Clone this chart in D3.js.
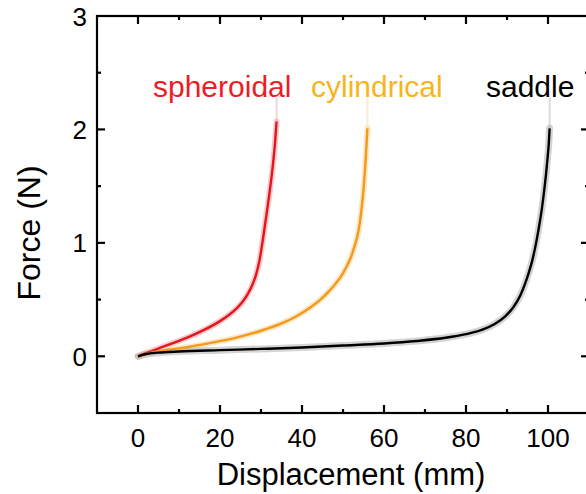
<!DOCTYPE html>
<html><head><meta charset="utf-8">
<script src="https://cdn.jsdelivr.net/npm/d3@7"></script>
<style>body{margin:0;background:#fff}svg{display:block}text{font-family:"Liberation Sans",Arial,sans-serif}</style>
</head><body><div id="chart"></div>
<script>
const xTicks = [0, 20, 40, 60, 80, 100];
const yTicks = [0, 1, 2, 3];
const seriesNames = ["spheroidal", "cylindrical", "saddle"];
const spheroidalX = [0, 4, 8, 12, 16, 20, 22, 24, 25.5, 26.8, 27.9, 28.8, 29.6, 30.3, 30.9, 31.5, 32, 32.5, 33, 33.4, 33.8];
const spheroidalY = [0, 0.055, 0.11, 0.165, 0.23, 0.31, 0.36, 0.42, 0.48, 0.55, 0.63, 0.72, 0.84, 0.99, 1.14, 1.29, 1.42, 1.56, 1.72, 1.87, 2.07];
const cylindricalX = [0, 3, 7, 12, 18, 24, 30, 35, 39, 42, 44.5, 46.5, 48.3, 49.8, 51, 52, 52.9, 53.7, 54.4, 55, 55.5, 55.96];
const cylindricalY = [0, 0.03, 0.055, 0.08, 0.12, 0.165, 0.225, 0.29, 0.36, 0.43, 0.50, 0.57, 0.645, 0.72, 0.80, 0.88, 0.98, 1.09, 1.26, 1.47, 1.72, 2.01];
const saddleX = [0, 2, 5, 10, 20, 30, 40, 50, 60, 68, 75, 80, 84, 87, 89.5, 91.5, 93.3, 94.8, 96.2, 97.1, 97.8, 98.5, 99.0, 99.5, 99.9, 100.2, 100.4];
const saddleY = [0, 0.02, 0.032, 0.042, 0.054, 0.065, 0.078, 0.095, 0.113, 0.135, 0.163, 0.195, 0.235, 0.285, 0.35, 0.43, 0.54, 0.68, 0.85, 1.0, 1.14, 1.3, 1.44, 1.6, 1.75, 1.88, 2.01];
const bandTop = [2.28, 2.28, 2.28];
const lineColors = ["#e8141c", "#f39a17", "#000000"];
const bandColors = ["#f4a8ae", "#fbd7a6", "#b8b8b8"];
const labelColors = ["#ee1c25", "#f7b51d", "#000000"];

const W = 586, H = 494;
const svg = d3.select("#chart").append("svg").attr("width", W).attr("height", H);
const x = d3.scaleLinear().domain([-10, 110]).range([97, 589]);
const y = d3.scaleLinear().domain([-0.5, 3]).range([413, 16]);

const series = [
  {name: seriesNames[0], xs: spheroidalX, ys: spheroidalY},
  {name: seriesNames[1], xs: cylindricalX, ys: cylindricalY},
  {name: seriesNames[2], xs: saddleX, ys: saddleY}
];
const lineGen = d3.line().x(d => x(d[0])).y(d => y(d[1])).curve(d3.curveMonotoneX);

// bands
series.forEach((s, i) => {
  const pts = s.xs.map((v, j) => [v, s.ys[j]]);
  svg.append("path").attr("d", lineGen(pts)).attr("fill", "none")
    .attr("stroke", bandColors[i]).attr("stroke-width", i === 2 ? 7 : 6).attr("stroke-opacity", 0.6)
    .attr("stroke-linecap", "round");
  const last = pts[pts.length - 1];
  svg.append("line").attr("x1", x(last[0])).attr("x2", x(last[0]))
    .attr("y1", y(last[1])).attr("y2", y(bandTop[i]))
    .attr("stroke", bandColors[i]).attr("stroke-width", 2).attr("stroke-opacity", 0.5);
});
// lines
series.forEach((s, i) => {
  const pts = s.xs.map((v, j) => [v, s.ys[j]]);
  svg.append("path").attr("d", lineGen(pts)).attr("fill", "none")
    .attr("stroke", lineColors[i]).attr("stroke-width", 2.4).attr("stroke-linejoin", "round");
});

// labels
const labelX = [153, 311, 486];
seriesNames.forEach((n, i) => {
  svg.append("text").attr("x", labelX[i]).attr("y", 97).attr("fill", labelColors[i])
    .attr("font-size", 30).text(n);
});

// axes
const ax = svg.append("g").attr("stroke", "#000").attr("stroke-width", 2.2).attr("fill", "none");
ax.append("rect").attr("x", x(-10)).attr("y", y(3)).attr("width", x(110) - x(-10)).attr("height", y(-0.5) - y(3));
const xMinor = d3.range(-10, 111, 10);
const yMinor = d3.range(-0.5, 3.01, 0.5);
xMinor.forEach(v => {
  if (v <= -10 || v >= 110) return;
  const major = xTicks.includes(v);
  const len = major ? 8 : 4;
  ax.append("line").attr("x1", x(v)).attr("x2", x(v)).attr("y1", y(-0.5)).attr("y2", y(-0.5) - len);
  ax.append("line").attr("x1", x(v)).attr("x2", x(v)).attr("y1", y(3)).attr("y2", y(3) + len);
});
yMinor.forEach(v => {
  if (v <= -0.5 || v >= 3) return;
  const major = yTicks.includes(v);
  const len = major ? 8 : 4;
  ax.append("line").attr("y1", y(v)).attr("y2", y(v)).attr("x1", x(-10)).attr("x2", x(-10) + len);
  ax.append("line").attr("y1", y(v)).attr("y2", y(v)).attr("x1", x(110)).attr("x2", x(110) - len);
});

svg.append("g").selectAll("text").data(xTicks).join("text")
  .attr("x", d => x(d)).attr("y", 447).attr("text-anchor", "middle").attr("font-size", 26).text(d => d);
svg.append("g").selectAll("text").data(yTicks).join("text")
  .attr("x", 87).attr("y", d => y(d) + 9.5).attr("text-anchor", "end").attr("font-size", 26).text(d => d);

svg.append("text").attr("x", 351).attr("y", 485).attr("text-anchor", "middle").attr("font-size", 31).text("Displacement (mm)");
svg.append("text").attr("transform", "translate(40,233) rotate(-90)").attr("text-anchor", "middle").attr("font-size", 32).text("Force (N)");
</script></body></html>
